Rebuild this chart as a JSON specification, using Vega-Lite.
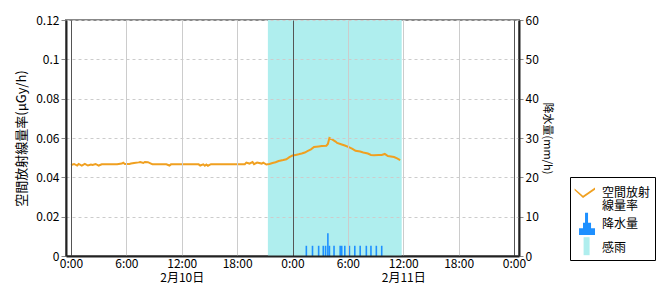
{
  "$schema": "https://vega.github.io/schema/vega-lite/v6.json",
  "width": 453,
  "height": 236,
  "autosize": {"type": "none"},
  "padding": {"left": 66, "top": 20, "right": 151, "bottom": 44},
  "datasets": {
    "rainperiod": [{"start": "2024-02-10T21:20", "end": "2024-02-11T11:50", "kind": "感雨"}],
    "rate": [
      {"t": "2024-02-10T00:00", "v": 0.0463, "kind": "空間放射線量率"},
      {"t": "2024-02-10T00:20", "v": 0.0468, "kind": "空間放射線量率"},
      {"t": "2024-02-10T00:40", "v": 0.0460, "kind": "空間放射線量率"},
      {"t": "2024-02-10T00:50", "v": 0.0468, "kind": "空間放射線量率"},
      {"t": "2024-02-10T01:10", "v": 0.0460, "kind": "空間放射線量率"},
      {"t": "2024-02-10T01:30", "v": 0.0468, "kind": "空間放射線量率"},
      {"t": "2024-02-10T01:50", "v": 0.0460, "kind": "空間放射線量率"},
      {"t": "2024-02-10T02:10", "v": 0.0465, "kind": "空間放射線量率"},
      {"t": "2024-02-10T02:20", "v": 0.0463, "kind": "空間放射線量率"},
      {"t": "2024-02-10T02:40", "v": 0.0468, "kind": "空間放射線量率"},
      {"t": "2024-02-10T03:00", "v": 0.0460, "kind": "空間放射線量率"},
      {"t": "2024-02-10T03:20", "v": 0.0466, "kind": "空間放射線量率"},
      {"t": "2024-02-10T04:00", "v": 0.0466, "kind": "空間放射線量率"},
      {"t": "2024-02-10T05:00", "v": 0.0466, "kind": "空間放射線量率"},
      {"t": "2024-02-10T05:30", "v": 0.0470, "kind": "空間放射線量率"},
      {"t": "2024-02-10T05:40", "v": 0.0474, "kind": "空間放射線量率"},
      {"t": "2024-02-10T05:50", "v": 0.0468, "kind": "空間放射線量率"},
      {"t": "2024-02-10T06:20", "v": 0.0468, "kind": "空間放射線量率"},
      {"t": "2024-02-10T06:30", "v": 0.0470, "kind": "空間放射線量率"},
      {"t": "2024-02-10T06:50", "v": 0.0473, "kind": "空間放射線量率"},
      {"t": "2024-02-10T07:20", "v": 0.0476, "kind": "空間放射線量率"},
      {"t": "2024-02-10T07:30", "v": 0.0478, "kind": "空間放射線量率"},
      {"t": "2024-02-10T07:50", "v": 0.0473, "kind": "空間放射線量率"},
      {"t": "2024-02-10T08:00", "v": 0.0478, "kind": "空間放射線量率"},
      {"t": "2024-02-10T08:20", "v": 0.0477, "kind": "空間放射線量率"},
      {"t": "2024-02-10T08:40", "v": 0.0470, "kind": "空間放射線量率"},
      {"t": "2024-02-10T08:50", "v": 0.0466, "kind": "空間放射線量率"},
      {"t": "2024-02-10T10:20", "v": 0.0466, "kind": "空間放射線量率"},
      {"t": "2024-02-10T10:40", "v": 0.0460, "kind": "空間放射線量率"},
      {"t": "2024-02-10T10:50", "v": 0.0466, "kind": "空間放射線量率"},
      {"t": "2024-02-10T12:00", "v": 0.0466, "kind": "空間放射線量率"},
      {"t": "2024-02-10T13:50", "v": 0.0466, "kind": "空間放射線量率"},
      {"t": "2024-02-10T14:00", "v": 0.0460, "kind": "空間放射線量率"},
      {"t": "2024-02-10T14:20", "v": 0.0466, "kind": "空間放射線量率"},
      {"t": "2024-02-10T14:30", "v": 0.0459, "kind": "空間放射線量率"},
      {"t": "2024-02-10T14:40", "v": 0.0465, "kind": "空間放射線量率"},
      {"t": "2024-02-10T14:50", "v": 0.0459, "kind": "空間放射線量率"},
      {"t": "2024-02-10T15:10", "v": 0.0467, "kind": "空間放射線量率"},
      {"t": "2024-02-10T16:00", "v": 0.0467, "kind": "空間放射線量率"},
      {"t": "2024-02-10T18:00", "v": 0.0467, "kind": "空間放射線量率"},
      {"t": "2024-02-10T18:50", "v": 0.0467, "kind": "空間放射線量率"},
      {"t": "2024-02-10T19:00", "v": 0.0475, "kind": "空間放射線量率"},
      {"t": "2024-02-10T19:20", "v": 0.0470, "kind": "空間放射線量率"},
      {"t": "2024-02-10T19:40", "v": 0.0478, "kind": "空間放射線量率"},
      {"t": "2024-02-10T19:50", "v": 0.0467, "kind": "空間放射線量率"},
      {"t": "2024-02-10T20:10", "v": 0.0475, "kind": "空間放射線量率"},
      {"t": "2024-02-10T20:40", "v": 0.0470, "kind": "空間放射線量率"},
      {"t": "2024-02-10T20:50", "v": 0.0475, "kind": "空間放射線量率"},
      {"t": "2024-02-10T21:10", "v": 0.0465, "kind": "空間放射線量率"},
      {"t": "2024-02-10T21:30", "v": 0.0468, "kind": "空間放射線量率"},
      {"t": "2024-02-10T21:50", "v": 0.0473, "kind": "空間放射線量率"},
      {"t": "2024-02-10T22:10", "v": 0.0477, "kind": "空間放射線量率"},
      {"t": "2024-02-10T22:30", "v": 0.0483, "kind": "空間放射線量率"},
      {"t": "2024-02-10T23:00", "v": 0.0488, "kind": "空間放射線量率"},
      {"t": "2024-02-10T23:20", "v": 0.0492, "kind": "空間放射線量率"},
      {"t": "2024-02-10T23:40", "v": 0.0503, "kind": "空間放射線量率"},
      {"t": "2024-02-11T00:00", "v": 0.0511, "kind": "空間放射線量率"},
      {"t": "2024-02-11T00:20", "v": 0.0514, "kind": "空間放射線量率"},
      {"t": "2024-02-11T00:40", "v": 0.0517, "kind": "空間放射線量率"},
      {"t": "2024-02-11T01:00", "v": 0.0521, "kind": "空間放射線量率"},
      {"t": "2024-02-11T01:20", "v": 0.0526, "kind": "空間放射線量率"},
      {"t": "2024-02-11T01:40", "v": 0.0534, "kind": "空間放射線量率"},
      {"t": "2024-02-11T02:00", "v": 0.0542, "kind": "空間放射線量率"},
      {"t": "2024-02-11T02:20", "v": 0.0554, "kind": "空間放射線量率"},
      {"t": "2024-02-11T02:50", "v": 0.0557, "kind": "空間放射線量率"},
      {"t": "2024-02-11T03:10", "v": 0.0559, "kind": "空間放射線量率"},
      {"t": "2024-02-11T03:40", "v": 0.0561, "kind": "空間放射線量率"},
      {"t": "2024-02-11T03:50", "v": 0.0570, "kind": "空間放射線量率"},
      {"t": "2024-02-11T04:00", "v": 0.0600, "kind": "空間放射線量率"},
      {"t": "2024-02-11T04:20", "v": 0.0592, "kind": "空間放射線量率"},
      {"t": "2024-02-11T04:40", "v": 0.0582, "kind": "空間放射線量率"},
      {"t": "2024-02-11T04:50", "v": 0.0575, "kind": "空間放射線量率"},
      {"t": "2024-02-11T05:20", "v": 0.0567, "kind": "空間放射線量率"},
      {"t": "2024-02-11T05:40", "v": 0.0562, "kind": "空間放射線量率"},
      {"t": "2024-02-11T06:10", "v": 0.0552, "kind": "空間放射線量率"},
      {"t": "2024-02-11T06:30", "v": 0.0545, "kind": "空間放射線量率"},
      {"t": "2024-02-11T06:50", "v": 0.0535, "kind": "空間放射線量率"},
      {"t": "2024-02-11T07:20", "v": 0.0531, "kind": "空間放射線量率"},
      {"t": "2024-02-11T07:40", "v": 0.0526, "kind": "空間放射線量率"},
      {"t": "2024-02-11T08:10", "v": 0.0521, "kind": "空間放射線量率"},
      {"t": "2024-02-11T08:30", "v": 0.0514, "kind": "空間放射線量率"},
      {"t": "2024-02-11T08:50", "v": 0.0512, "kind": "空間放射線量率"},
      {"t": "2024-02-11T09:20", "v": 0.0514, "kind": "空間放射線量率"},
      {"t": "2024-02-11T09:40", "v": 0.0514, "kind": "空間放射線量率"},
      {"t": "2024-02-11T10:00", "v": 0.0519, "kind": "空間放射線量率"},
      {"t": "2024-02-11T10:20", "v": 0.0508, "kind": "空間放射線量率"},
      {"t": "2024-02-11T10:40", "v": 0.0506, "kind": "空間放射線量率"},
      {"t": "2024-02-11T11:00", "v": 0.0503, "kind": "空間放射線量率"},
      {"t": "2024-02-11T11:20", "v": 0.0496, "kind": "空間放射線量率"},
      {"t": "2024-02-11T11:40", "v": 0.0488, "kind": "空間放射線量率"}
    ],
    "rain": [
      {"t": "2024-02-11T01:30", "r": 2.6, "kind": "降水量"},
      {"t": "2024-02-11T02:10", "r": 2.6, "kind": "降水量"},
      {"t": "2024-02-11T02:50", "r": 2.6, "kind": "降水量"},
      {"t": "2024-02-11T03:20", "r": 2.6, "kind": "降水量"},
      {"t": "2024-02-11T03:35", "r": 2.6, "kind": "降水量"},
      {"t": "2024-02-11T03:50", "r": 5.8, "kind": "降水量"},
      {"t": "2024-02-11T04:00", "r": 2.6, "kind": "降水量"},
      {"t": "2024-02-11T04:30", "r": 2.6, "kind": "降水量"},
      {"t": "2024-02-11T05:10", "r": 2.6, "kind": "降水量"},
      {"t": "2024-02-11T05:20", "r": 2.6, "kind": "降水量"},
      {"t": "2024-02-11T05:40", "r": 2.6, "kind": "降水量"},
      {"t": "2024-02-11T06:10", "r": 2.6, "kind": "降水量"},
      {"t": "2024-02-11T06:45", "r": 2.6, "kind": "降水量"},
      {"t": "2024-02-11T07:20", "r": 2.6, "kind": "降水量"},
      {"t": "2024-02-11T08:00", "r": 2.6, "kind": "降水量"},
      {"t": "2024-02-11T08:30", "r": 2.6, "kind": "降水量"},
      {"t": "2024-02-11T09:05", "r": 2.6, "kind": "降水量"},
      {"t": "2024-02-11T09:40", "r": 2.6, "kind": "降水量"}
    ]
  },
  "layer": [
    {
      "data": {"name": "rainperiod"},
      "mark": {"type": "rect"},
      "encoding": {
        "x": {
          "field": "start", "type": "temporal",
          "scale": {"domain": [{"year": 2024, "month": 2, "date": 10}, {"year": 2024, "month": 2, "date": 12}]},
          "axis": {
            "title": null,
            "tickCount": 8,
            "format": "%-H:%M",
            "labelExpr": "hours(datum.value) == 12 ? [datum.label, timeFormat(datum.value, '%-m月%-d日')] : datum.label",
            "labelLineHeight": 14,
            "grid": true,
            "gridColor": {"condition": {"test": "hours(datum.value) == 0", "value": "#555555"}, "value": "#cccccc"},
            "tickSize": 0,
            "labelPadding": 2,
            "labelOverlap": false,
            "labelFlush": false,
            "domainColor": "#222",
            "domainWidth": 2,
            "zindex": 1
          }
        },
        "x2": {"field": "end"},
        "color": {
          "field": "kind",
          "type": "nominal",
          "scale": {"domain": ["空間放射線量率", "降水量", "感雨"], "range": ["#F0A020", "#1E90FF", "#AFEEEE"]},
          "legend": {
            "orient": "none",
            "legendX": 504,
            "legendY": 157,
            "title": null,
            "strokeColor": "#000",
            "fillColor": "#fff",
            "padding": 4,
            "labelFontSize": 12,
            "labelLimit": 0,
            "labelOffset": 4,
            "rowPadding": 0,
            "symbolSize": 576,
            "labelExpr": "datum.label == '空間放射線量率' ? ['空間放射', '線量率'] : datum.label",
            "encode": {
              "symbols": {
                "update": {
                  "shape": {"signal": "datum.value == '空間放射線量率' ? 'M-0.95,-0.38L-0.25,0.22L0.75,-0.45L0.75,-0.27L-0.25,0.42L-0.95,-0.22Z' : datum.value == '降水量' ? 'M-0.58,0.92L-0.58,0.36L-0.25,0.36L-0.25,-0.1L-0.08,-0.1L-0.08,-0.94L0.17,-0.94L0.17,-0.1L0.42,-0.1L0.42,0.36L0.75,0.36L0.75,0.92Z' : 'M-0.2,-0.9L0.3,-0.9L0.3,0.6L-0.2,0.6Z'"},
                  "strokeWidth": {"value": 0},
                  "opacity": {"value": 1}
                }
              },
              "labels": {
                "update": {
                  "lineHeight": {"value": 13}
                }
              }
            }
          }
        }
      }
    },
    {
      "data": {"name": "rate"},
      "mark": {"type": "line", "strokeWidth": 2},
      "encoding": {
        "x": {"field": "t", "type": "temporal"},
        "y": {
          "field": "v", "type": "quantitative",
          "scale": {"domain": [0, 0.12], "nice": false},
          "axis": {
            "title": "空間放射線量率(μGy/h)",
            "titleFontSize": 13,
            "titlePadding": 7,
            "values": [0, 0.02, 0.04, 0.06, 0.08, 0.1, 0.12],
            "format": ".2~f",
            "grid": true,
            "gridColor": "#cccccc",
            "gridDash": [3, 3],
            "tickSize": 5,
            "labelPadding": 2,
            "domainColor": "#222",
            "domainWidth": 2,
            "zindex": 1
          }
        },
        "color": {"field": "kind", "type": "nominal"}
      }
    },
    {
      "data": {"name": "rain"},
      "mark": {"type": "bar", "size": 1.6},
      "encoding": {
        "x": {"field": "t", "type": "temporal"},
        "y": {
          "field": "r", "type": "quantitative",
          "scale": {"domain": [0, 60], "nice": false},
          "axis": {
            "orient": "right",
            "title": "降水量(mm/h)",
            "titleFontSize": 11,
            "titlePadding": 3,
            "values": [0, 10, 20, 30, 40, 50, 60],
            "grid": false,
            "tickSize": 4,
            "labelPadding": 2,
            "domainColor": "#222",
            "domainWidth": 2,
            "zindex": 1
          }
        },
        "color": {"field": "kind", "type": "nominal"}
      }
    }
  ],
  "resolve": {"scale": {"y": "independent"}, "axis": {"y": "independent"}},
  "config": {
    "font": "Noto Sans CJK JP",
    "view": {"stroke": "#888888", "strokeWidth": 2},
    "axis": {
      "labelFontSize": 12,
      "labelColor": "#000",
      "titleColor": "#000",
      "titleFontWeight": "normal"
    },
    "legend": {"labelColor": "#000"}
  }
}
